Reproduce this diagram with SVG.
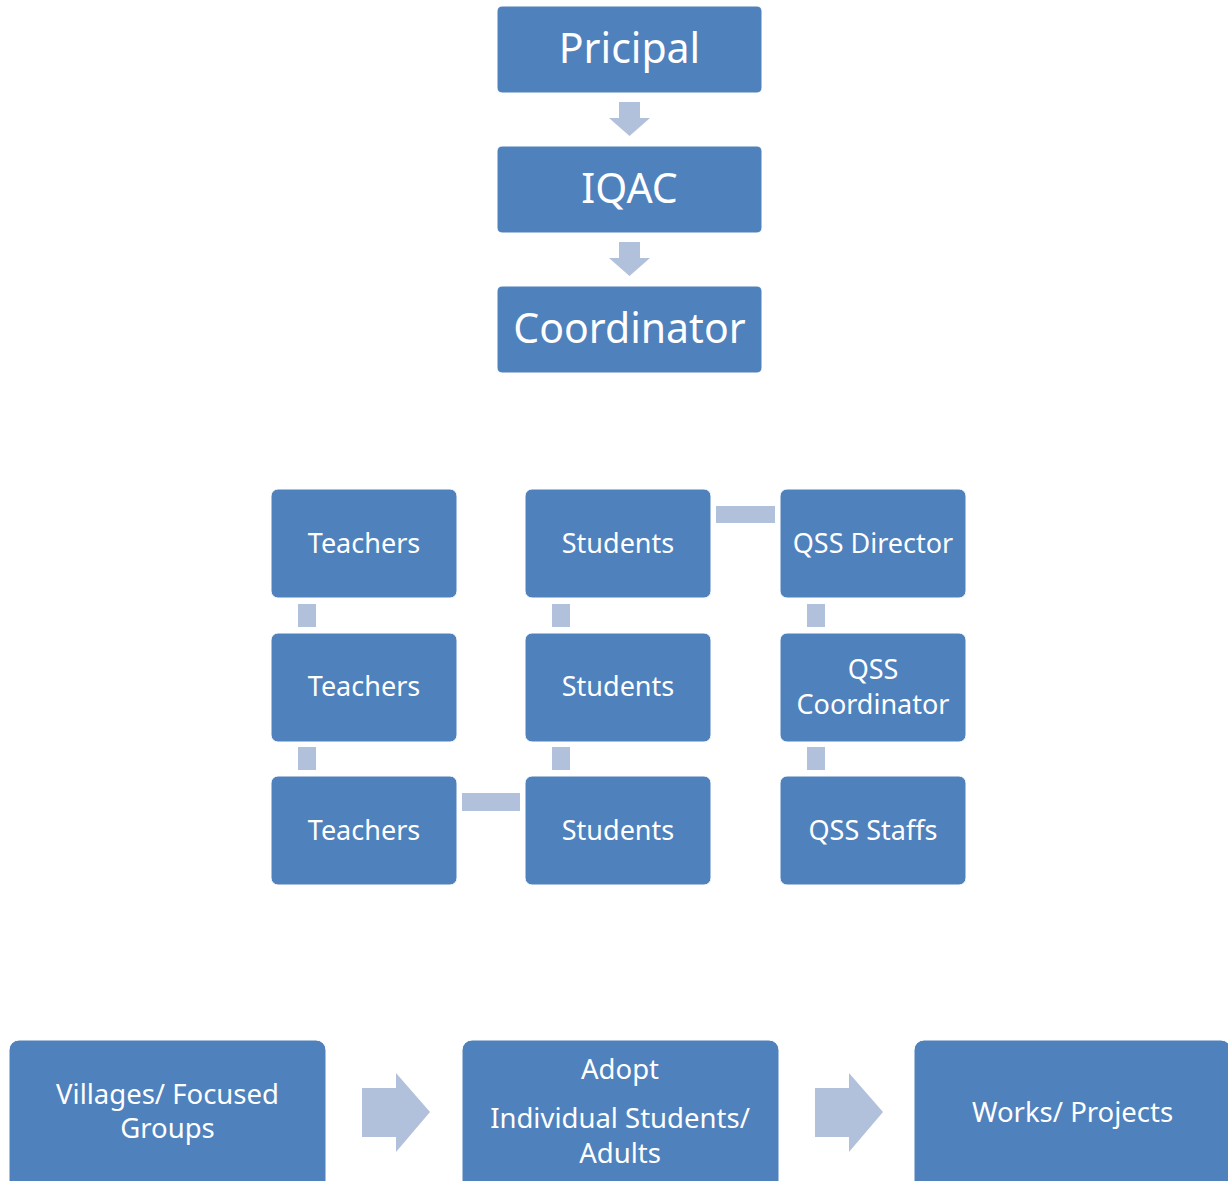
<svg xmlns="http://www.w3.org/2000/svg" width="1228" height="1181" viewBox="0 0 1228 1181">
<style>
.box{fill:#4F81BD;stroke:#ffffff;stroke-width:1}
.lbl{fill:#ffffff;font-family:"Noto Sans","Open Sans","DejaVu Sans",sans-serif;text-anchor:middle}
.big{font-size:41px}
.mid{font-size:27px}
.bot{font-size:27.5px}
.con{fill:#B2C1DB}
</style>
<rect width="1228" height="1181" fill="#ffffff"/>
<g id="connectors">
<polygon class="con" points="619,102 640,102 640,118 650,118 629.5,136 609,118 619,118"/>
<polygon class="con" points="619,242 640,242 640,258 650,258 629.5,276 609,258 619,258"/>
<rect class="con" x="298" y="604" width="18" height="23"/>
<rect class="con" x="298" y="747" width="18" height="23"/>
<rect class="con" x="552" y="604" width="18" height="23"/>
<rect class="con" x="552" y="747" width="18" height="23"/>
<rect class="con" x="807" y="604" width="18" height="23"/>
<rect class="con" x="807" y="747" width="18" height="23"/>
<rect class="con" x="462" y="793" width="58" height="18"/>
<rect class="con" x="716" y="506" width="59" height="17"/>
<polygon class="con" points="362,1088 396,1088 396,1073 430,1112 396,1152 396,1137 362,1137"/>
<polygon class="con" points="815,1088 849,1088 849,1073 883,1112 849,1152 849,1137 815,1137"/>
</g>
<g id="n-principal"><rect class="box" x="497" y="6" width="265" height="87" rx="5"/><text class="lbl big" x="629.5" y="63">Pricipal</text></g>
<g id="n-iqac"><rect class="box" x="497" y="146" width="265" height="87" rx="5"/><text class="lbl big" x="629.5" y="203">IQAC</text></g>
<g id="n-coordinator"><rect class="box" x="497" y="286" width="265" height="87" rx="5"/><text class="lbl big" x="629.5" y="343">Coordinator</text></g>
<g id="n-teachers1"><rect class="box" x="271" y="489" width="186" height="109" rx="7"/><text class="lbl mid" x="364" y="553">Teachers</text></g>
<g id="n-teachers2"><rect class="box" x="271" y="633" width="186" height="109" rx="7"/><text class="lbl mid" x="364" y="696">Teachers</text></g>
<g id="n-teachers3"><rect class="box" x="271" y="776" width="186" height="109" rx="7"/><text class="lbl mid" x="364" y="840">Teachers</text></g>
<g id="n-students1"><rect class="box" x="525" y="489" width="186" height="109" rx="7"/><text class="lbl mid" x="618" y="553">Students</text></g>
<g id="n-students2"><rect class="box" x="525" y="633" width="186" height="109" rx="7"/><text class="lbl mid" x="618" y="696">Students</text></g>
<g id="n-students3"><rect class="box" x="525" y="776" width="186" height="109" rx="7"/><text class="lbl mid" x="618" y="840">Students</text></g>
<g id="n-qss-director"><rect class="box" x="780" y="489" width="186" height="109" rx="7"/><text class="lbl mid" x="873" y="553">QSS Director</text></g>
<g id="n-qss-coordinator"><rect class="box" x="780" y="633" width="186" height="109" rx="7"/><text class="lbl mid" x="873" y="679">QSS</text><text class="lbl mid" x="873" y="714">Coordinator</text></g>
<g id="n-qss-staffs"><rect class="box" x="780" y="776" width="186" height="109" rx="7"/><text class="lbl mid" x="873" y="840">QSS Staffs</text></g>
<g id="n-villages"><rect class="box" x="9" y="1040" width="317" height="160" rx="10"/><text class="lbl bot" x="167.5" y="1104">Villages/ Focused</text><text class="lbl bot" x="167.5" y="1138">Groups</text></g>
<g id="n-adopt"><rect class="box" x="462" y="1040" width="317" height="160" rx="10"/><text class="lbl bot" x="620" y="1079">Adopt</text><text class="lbl bot" x="620" y="1128">Individual Students/</text><text class="lbl bot" x="620" y="1163">Adults</text></g>
<g id="n-works"><rect class="box" x="914" y="1040" width="317" height="160" rx="10"/><text class="lbl bot" x="1072.5" y="1122">Works/ Projects</text></g>
</svg>
